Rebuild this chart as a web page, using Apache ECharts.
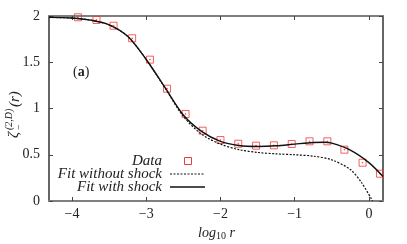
<!DOCTYPE html>
<html><head><meta charset="utf-8">
<script src="https://cdn.jsdelivr.net/npm/echarts@6/dist/echarts.min.js"></script>
<style>html,body{margin:0;padding:0;background:#fff}#c{width:407px;height:244px}</style>
</head><body><div id="c"></div>
<script>
// Data
var dataX = [-3.92,-3.67,-3.44,-3.19,-2.95,-2.72,-2.47,-2.24,-2.0,-1.76,-1.52,-1.28,-1.04,-0.80,-0.56,-0.33,-0.085,0.15];
var dataY = [1.986,1.957,1.895,1.759,1.528,1.214,0.941,0.76,0.659,0.619,0.598,0.602,0.616,0.645,0.645,0.555,0.414,0.295];

var fitWithX = [-4.31,-4.0,-3.75,-3.5,-3.25,-3.0,-2.75,-2.5,-2.25,-2.0,-1.75,-1.5,-1.25,-1.0,-0.75,-0.6,-0.5,-0.25,0.0,0.19];
var fitWithY = [1.985,1.978,1.955,1.905,1.78,1.53,1.23,0.93,0.75,0.645,0.6,0.59,0.597,0.615,0.632,0.635,0.625,0.55,0.415,0.265];

var fitWithoutX = [-4.31,-4.0,-3.75,-3.5,-3.25,-3.0,-2.75,-2.5,-2.25,-2.0,-1.75,-1.5,-1.25,-1.0,-0.75,-0.5,-0.25,-0.1,0.05];
var fitWithoutY = [1.985,1.978,1.955,1.905,1.78,1.53,1.225,0.915,0.72,0.615,0.555,0.525,0.51,0.5,0.485,0.445,0.34,0.2,0.0];

var xTicks = [-4,-3,-2,-1,0];
var yTicks = [0,0.5,1,1.5,2];
var legendNames = ['Data','Fit without shock','Fit with shock'];

function zip(a,b){return a.map(function(v,i){return [v,b[i]];});}
var FONT = 'Liberation Serif';
var fmt = function(v){ return String(v).replace('-', '\u2212'); };

var chart = echarts.init(document.getElementById('c'), null, {renderer:'canvas'});
var xBase = {type:'value', min:-4.31, max:0.19, splitLine:{show:false}};
var yBase = {type:'value', min:0, max:2, splitLine:{show:false}};
chart.setOption({
  animation:false,
  backgroundColor:'#fff',
  grid:{left:49, right:24, top:16, bottom:43},
  xAxis:[
    Object.assign({}, xBase, {position:'bottom',
      axisLine:{onZero:false, lineStyle:{color:'#7f7f7f', width:2}},
      axisTick:{inside:true, length:4, customValues:xTicks, lineStyle:{color:'#444'}},
      axisLabel:{customValues:xTicks, formatter:fmt, fontFamily:FONT, fontSize:14, color:'#222', margin:6}}),
    Object.assign({}, xBase, {position:'top',
      axisLine:{onZero:false, lineStyle:{color:'#7f7f7f', width:2}},
      axisTick:{inside:true, length:4, customValues:xTicks, lineStyle:{color:'#444'}},
      axisLabel:{show:false}})
  ],
  yAxis:[
    Object.assign({}, yBase, {position:'left',
      axisLine:{show:true, onZero:false, lineStyle:{color:'#333', width:1.5}},
      axisTick:{show:true, inside:true, length:4, customValues:yTicks, lineStyle:{color:'#444'}},
      axisLabel:{customValues:yTicks, fontFamily:FONT, fontSize:14, color:'#222', margin:9}}),
    Object.assign({}, yBase, {position:'right',
      axisLine:{show:true, onZero:false, lineStyle:{color:'#333', width:1.5}},
      axisTick:{show:true, inside:true, length:4, customValues:yTicks, lineStyle:{color:'#444'}},
      axisLabel:{show:false}})
  ],
  series:[
    {name:legendNames[1], type:'line', smooth:0.3, showSymbol:false, data:zip(fitWithoutX, fitWithoutY),
     lineStyle:{color:'#111', width:1.2, type:[2,1.5]}, clip:true},
    {name:legendNames[2], type:'line', smooth:0.3, showSymbol:false, data:zip(fitWithX, fitWithY),
     lineStyle:{color:'#111', width:1.4}, clip:true},
    {name:legendNames[0], type:'scatter', data:zip(dataX, dataY),
     symbol:'path://M0,0H8V8H0Z M3.6,3.6H4.4V4.4H3.6Z', symbolSize:7,
     itemStyle:{color:'rgba(0,0,0,0)', borderColor:'#f03a3a', borderWidth:1}}
  ],
  graphic:[
    {type:'group', x:14, y:110, rotation:Math.PI/2, children:[
      {type:'text', x:-28, y:0, style:{text:'\u03b6', font:'italic 15px '+FONT, fill:'#222', align:'left', verticalAlign:'middle'}},
      {type:'text', x:-20, y:-5, style:{text:'(2,D)', font:'italic 10px '+FONT, fill:'#222', align:'left', verticalAlign:'middle'}},
      {type:'text', x:-20, y:5, style:{text:'\u2212', font:'10px '+FONT, fill:'#222', align:'left', verticalAlign:'middle'}},
      {type:'text', x:3, y:1, style:{text:'(r)', font:'italic 15px '+FONT, fill:'#222', align:'left', verticalAlign:'middle'}}
    ]},
    {type:'text', x:73, y:72, style:{text:'({b|a})', font:'14px '+FONT, fill:'#222', verticalAlign:'middle',
      rich:{b:{fontWeight:'bold', fontFamily:FONT, fontSize:14}}}},
    {type:'text', x:162, y:161, style:{text:legendNames[0], font:'italic 15px '+FONT, fill:'#222', align:'right', verticalAlign:'middle'}},
    {type:'text', x:162, y:174, style:{text:legendNames[1], font:'italic 15px '+FONT, fill:'#222', align:'right', verticalAlign:'middle'}},
    {type:'text', x:162, y:187, style:{text:legendNames[2], font:'italic 15px '+FONT, fill:'#222', align:'right', verticalAlign:'middle'}},
    {type:'rect', shape:{x:184.5, y:157.5, width:7, height:7}, style:{fill:'none', stroke:'#f03a3a', lineWidth:1}},
    {type:'line', shape:{x1:170, y1:174, x2:205, y2:174}, style:{stroke:'#111', lineWidth:1.2, lineDash:[2,1.5]}},
    {type:'line', shape:{x1:170, y1:187, x2:205, y2:187}, style:{stroke:'#111', lineWidth:1.4}},
    {type:'text', x:198, y:233, style:{text:'{i|log}{s|10}{i| r}', font:'italic 14px '+FONT, fill:'#222', align:'left', verticalAlign:'middle',
      rich:{i:{fontStyle:'italic', fontFamily:FONT, fontSize:14}, s:{fontFamily:FONT, fontSize:10, padding:[6,0,0,0]}}}}
  ]
});
</script></body></html>
